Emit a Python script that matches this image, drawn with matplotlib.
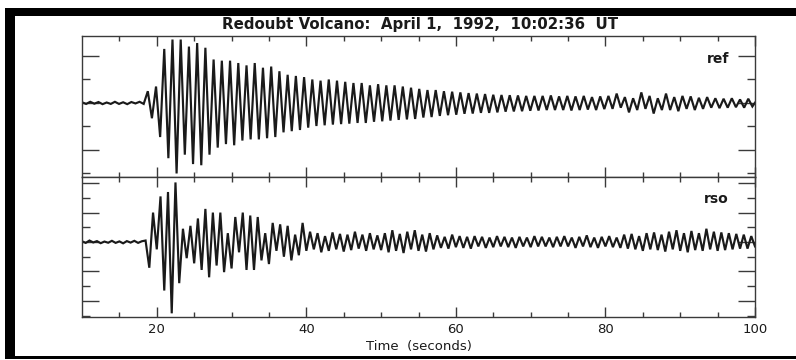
#!/usr/bin/env python3
"""
Redraw the Redoubt Volcano two-station seismogram (ref / rso), 1 April 1992.

Output:
    out.png  (796 x 360)
"""
from __future__ import annotations

import matplotlib
matplotlib.use("Agg")
import matplotlib.pyplot as plt
import numpy as np
from matplotlib.patches import Rectangle
from matplotlib.ticker import FixedLocator

TITLE = "Redoubt Volcano:  April 1,  1992,  10:02:36  UT"
X_LABEL = "Time  (seconds)"
STATIONS = ["ref", "rso"]
X_TICKS = [20, 40, 60, 80, 100]

# ref trace: peak readings, one every 0.55 s from t = 10 s
# (units: one minor y tick of the upper panel)
REF_T0 = 10.0
REF_DT = 0.55
REF_AMP = [
    0.03, -0.04, 0.05, -0.03, 0.04, -0.05, 0.02, -0.04, 0.05, -0.04, 0.03, -0.05, 0.04, -0.02, 0.05, -0.04,
    0.5, -0.65, 0.7, -1.45,
    2.3, -2.35, 2.7, -3.0, 2.7, -2.2, 2.4, -2.6, 2.55, -2.65,
    2.35, -2.2, 1.85, -1.9, 1.8, -1.75, 1.8, -1.8, 1.7, -1.6,
    1.6, -1.55, 1.7, -1.55, 1.5, -1.5, 1.55, -1.45, 1.35, -1.25,
    1.2, -1.2, 1.15, -1.15, 1.1, -1.05, 1.0, -0.98, 0.95, -0.95,
    1.0, -0.92, 0.95, -0.9, 0.9, -0.88, 0.85, -0.85, 0.85, -0.85,
    0.75, -0.8, 0.8, -0.78, 0.75, -0.75, 0.75, -0.72, 0.7, -0.7,
    0.65, -0.68, 0.6, -0.62, 0.55, -0.6, 0.55, -0.55, 0.5, -0.52,
    0.48, -0.5, 0.45, -0.46, 0.42, -0.45, 0.4, -0.42, 0.38, -0.42,
    0.35, -0.4, 0.34, -0.37, 0.33, -0.36, 0.32, -0.35, 0.3, -0.33,
    0.3, -0.32, 0.3, -0.3, 0.32, -0.3, 0.28, -0.3, 0.3, -0.32,
    0.28, -0.3, 0.3, -0.28, 0.25, -0.3, 0.28, -0.26, 0.3, -0.25,
    0.4, -0.2, 0.25, -0.4, 0.2, -0.3, 0.45, -0.25, 0.3, -0.45,
    0.2, -0.3, 0.4, -0.3, 0.25, -0.35, 0.3, -0.25, 0.28, -0.3,
    0.22, -0.25, 0.25, -0.2, 0.2, -0.22, 0.18, -0.2, 0.2, -0.18,
    0.15, -0.2, 0.18, -0.15, 0.1,
]

# rso trace: readings every 0.5 s from t = 10 s (units: one minor y tick of the lower panel)
RSO_T0 = 10.0
RSO_DT = 0.5
RSO_AMP = [
    0.05, -0.06, 0.1, -0.03, 0.06, -0.08, 0.03, -0.05, 0.08, -0.06, 0.04, -0.09, 0.06, -0.04, 0.08, -0.06, 0.05,
    0.1, -1.75, 2.0, -0.5, 3.1, -3.3, 3.4, -4.85, 4.05, -2.8,
    0.9, -1.1, 1.1, -1.45, 1.6, -1.9, 2.25, -2.4, 2.0, -1.6,
    2.0, -2.05, 0.6, -1.8, 1.7, -0.7, 2.0, -1.9, 1.8, -1.9,
    1.7, -1.25, 0.6, -1.5, 1.3, -0.6, 1.2, -1.0, 1.1, -1.25,
    0.5, -0.9, 1.3, -0.6,
    0.7, -0.5, 0.6, -0.7, 0.4, -0.6, 0.65, -0.5, 0.55, -0.65,
    0.5, -0.55, 0.7, -0.45, 0.5, -0.6, 0.6, -0.5, 0.45, -0.55,
    0.6, -0.7, 0.8, -0.6, 0.55, -0.75, 0.7, -0.5, 0.8, -0.6, 0.5, -0.65, 0.6, -0.5,
    0.45, -0.4, 0.35, -0.45, 0.5, -0.35, 0.4, -0.4, 0.35, -0.45,
    0.4, -0.3, 0.35, -0.4, 0.3, -0.35, 0.4, -0.3, 0.35, -0.35,
    0.3, -0.4, 0.35, -0.3, 0.3, -0.35, 0.4, -0.3, 0.35, -0.3,
    0.3, -0.35, 0.35, -0.3, 0.4, -0.3, 0.3, -0.4, 0.35, -0.3,
    0.45, -0.35, 0.3, -0.4, 0.35, -0.3, 0.4, -0.35, 0.3, -0.4,
    0.5, -0.45, 0.55, -0.5, 0.4, -0.6, 0.6, -0.5, 0.65, -0.55, 0.5, -0.65,
    0.7, -0.5, 0.8, -0.6, 0.6, -0.7, 0.75, -0.55, 0.6, -0.6, 0.9, -0.5,
    0.7, -0.6, 0.65, -0.55, 0.6, -0.5, 0.55, -0.45, 0.5, -0.45, 0.4, -0.3,
]

W, H = 796, 360
AX_L, AX_R = 82, 755
PANELS = [  # (top px, bottom px, ylim, major y ticks, minor y ticks)
    (36, 177, (-3.15, 2.85), [-2, 0, 2], [-3, -1, 1]),
    (177, 317, (-5.1, 4.42), [-4, -2, 0, 2, 4], [-5, -3, -1, 1, 3]),
]
INK = "#1a1a1a"
SPINE = "#3a3a3a"


def fig_rect(x0, y0, x1, y1):
    """pixel box (top-left origin) -> figure fraction rect"""
    return [x0 / W, 1 - y1 / H, (x1 - x0) / W, (y1 - y0) / H]


def main() -> None:
    fig = plt.figure(figsize=(W / 100, H / 100), dpi=100, facecolor="white")

    traces = [
        (REF_T0 + REF_DT * np.arange(len(REF_AMP)), np.array(REF_AMP)),
        (RSO_T0 + RSO_DT * np.arange(len(RSO_AMP)), np.array(RSO_AMP)),
    ]

    axes = []
    for (top, bot, ylim, ymaj, ymin), (t, amp), name in zip(PANELS, traces, STATIONS):
        ax = fig.add_axes(fig_rect(AX_L, top, AX_R, bot))
        ax.plot(t, amp, color=INK, lw=1.55, solid_joinstyle="miter")
        ax.set_xlim(10, 100)
        ax.set_ylim(*ylim)
        ax.xaxis.set_major_locator(FixedLocator(X_TICKS))
        ax.xaxis.set_minor_locator(FixedLocator(np.arange(15, 100, 5)))
        ax.yaxis.set_major_locator(FixedLocator(ymaj))
        ax.yaxis.set_minor_locator(FixedLocator(ymin))
        ax.tick_params(which="both", direction="in", top=True, right=True,
                       color=SPINE, width=1.0, labelleft=False)
        ax.tick_params(axis="x", which="major", length=7)
        ax.tick_params(axis="x", which="minor", length=3.5)
        ax.tick_params(axis="y", which="major", length=12)
        ax.tick_params(axis="y", which="minor", length=6)
        for sp in ax.spines.values():
            sp.set_color(SPINE)
            sp.set_linewidth(1.0)
        ax.text(0.961, 0.84, name, transform=ax.transAxes, ha="right", va="center",
                fontsize=10, fontweight="bold", color=INK)
        axes.append(ax)

    axes[0].tick_params(axis="x", labelbottom=False)
    axes[1].tick_params(axis="x", labelsize=9.5, labelcolor=INK, pad=4)
    axes[1].set_xlabel(X_LABEL, fontsize=9.5, color=INK, labelpad=3)

    fig.text(420 / W, 1 - 24 / H, TITLE, ha="center", va="center",
             fontsize=10.8, fontweight="bold", color=INK)

    # black frame bands of the scanned page
    for box in [(5, 8, W, 16), (5, 8, 15, 359), (5, 356, W, 359)]:
        r = fig_rect(*box)
        fig.add_artist(Rectangle(r[:2], r[2], r[3], transform=fig.transFigure,
                                 color="black", lw=0))

    fig.savefig("out.png", dpi=100, facecolor="white")
    plt.close(fig)


if __name__ == "__main__":
    main()
